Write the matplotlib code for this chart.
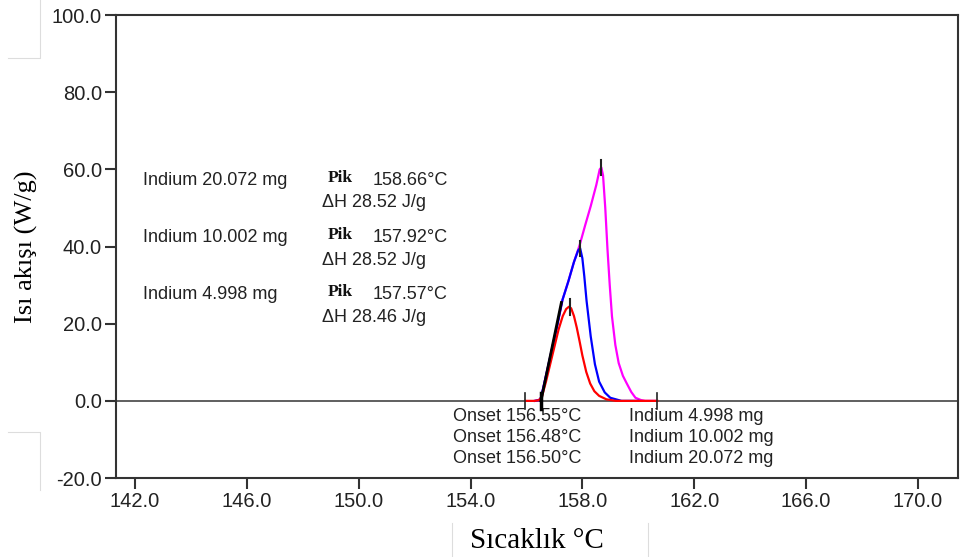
import numpy as np
import matplotlib.pyplot as plt
from matplotlib.lines import Line2D

# DSC curves of indium samples
x_red = [155.96, 156.3, 156.45, 156.55, 156.7, 156.85, 157.0, 157.15, 157.3, 157.42,
         157.52, 157.6, 157.7, 157.8, 157.9, 158.0, 158.14, 158.28, 158.43, 158.6,
         158.86, 159.2, 160.68]
y_red = [0, 0, 0.2, 1.0, 5.0, 9.5, 14.0, 18.5, 22.0, 23.8, 24.4, 24.0, 22.0, 19.0,
         15.5, 11.8, 7.5, 4.5, 2.5, 1.3, 0.4, 0, 0]

x_blue = [156.3, 156.45, 156.52, 156.7, 156.9, 157.1, 157.29, 157.5, 157.7, 157.85,
          157.92, 158.0, 158.07, 158.15, 158.3, 158.45, 158.6, 158.8, 159.0, 159.4,
          160.0]
y_blue = [0, 0.2, 0.8, 6.5, 13.0, 19.5, 26.2, 31.0, 36.0, 39.0, 39.6, 37.0, 32.3,
          26.0, 16.7, 9.5, 5.0, 2.2, 0.8, 0, 0]

x_mag = [156.3, 156.45, 156.52, 156.7, 156.9, 157.1, 157.29, 157.5, 157.7, 157.9,
         158.1, 158.3, 158.5, 158.62, 158.68, 158.74, 158.82, 158.9, 158.98, 159.06,
         159.18, 159.3, 159.45, 159.59, 159.75, 159.9, 160.1, 160.25, 160.6]
y_mag = [0, 0.2, 0.8, 6.5, 13.0, 19.5, 26.2, 31.0, 36.0, 40.3, 45.5, 50.5, 56.0,
         60.0, 60.5, 58.5, 50.0, 39.2, 30.0, 21.9, 14.5, 9.8, 6.5, 4.5, 2.3, 0.8,
         0.2, 0, 0]

peak_x = [157.55, 157.9, 158.66]
peak_y = [24.3, 39.5, 60.5]
onset_x = [156.52, 157.25]
onset_y = [0.0, 25.5]
limit_x = [155.96, 160.68]

masses = ["Indium 20.072 mg", "Indium 10.002 mg", "Indium 4.998 mg"]
peaks = ["158.66°C", "157.92°C", "157.57°C"]
enthalpies = ["ΔH 28.52 J/g", "ΔH 28.52 J/g", "ΔH 28.46 J/g"]
onsets = ["Onset 156.55°C", "Onset 156.48°C", "Onset 156.50°C"]
legend_masses = ["Indium 4.998 mg", "Indium 10.002 mg", "Indium 20.072 mg"]

sans = ["Liberation Sans", "DejaVu Sans"]
serif = ["Liberation Serif", "DejaVu Serif"]

fig = plt.figure(figsize=(9.61, 5.57), dpi=100)
ax = fig.add_axes([0.1207, 0.1418, 0.876, 0.831])

ax.axhline(0, color="#444444", lw=1.2, zorder=1)
ax.plot(x_mag, y_mag, color="#ff00ff", lw=1.6, zorder=2)
ax.plot(x_blue, y_blue, color="#0000ff", lw=1.6, zorder=3)
ax.plot(x_red, y_red, color="#ff0000", lw=1.6, zorder=4)
ax.plot(onset_x, onset_y, color="black", lw=2.0, zorder=5)

for px, py in zip(peak_x, peak_y):
    ax.plot([px, px], [py - 2, py + 2], color="#222222", lw=1.5, zorder=6)
for lx in limit_x:
    ax.plot([lx, lx], [-2, 2], color="#222222", lw=1.2, zorder=6)
ax.plot([onset_x[0], onset_x[0]], [-2, 2], color="black", lw=2.5, zorder=6)

ax.set_xlim(141.32, 171.43)
ax.set_ylim(-20, 100)
ax.set_xticks(np.arange(142, 171, 4))
ax.set_xticklabels([f"{v:.1f}" for v in np.arange(142, 171, 4)])
ax.set_yticks(np.arange(-20, 101, 20))
ax.set_yticklabels([f"{v:.1f}" for v in np.arange(-20, 101, 20)])
ax.tick_params(direction="out", length=8, width=1.5, color="#333333",
               labelsize=14.5, labelcolor="#222222", pad=2)
for lab in ax.get_xticklabels() + ax.get_yticklabels():
    lab.set_family(sans)
for s in ax.spines.values():
    s.set_color("#333333")
    s.set_linewidth(1.5)

ax.set_ylabel("Isı akışı (W/g)", family=serif, fontsize=19, labelpad=10)
ax.set_xlabel("Sıcaklık °C", family=serif, fontsize=21, labelpad=12)

tkw = dict(family=sans, fontsize=13, color="#222222", va="center")
group_y = [57.1, 42.3, 27.5]
for m, p, h, gy in zip(masses, peaks, enthalpies, group_y):
    ax.text(142.28, gy, m, **tkw)
    ax.text(148.89, gy + 0.8, "Pik", family=serif, fontsize=12.5, fontweight="bold",
            va="center", color="#111111")
    ax.text(150.5, gy, p, **tkw)
    ax.text(148.7, gy - 5.8, h, **tkw)

for i, (o, lm) in enumerate(zip(onsets, legend_masses)):
    yy = -4.0 - 5.45 * i
    ax.text(153.36, yy, o, **tkw)
    ax.text(159.68, yy, lm, **tkw)

# faint screenshot frame lines
for xs, ys in [([8, 40, 40], [58, 58, 0]), ([8, 40, 40], [432, 432, 490]),
               ([452, 452], [523, 557]), ([648, 648], [523, 557])]:
    fig.add_artist(Line2D(np.array(xs) / 961, 1 - np.array(ys) / 557,
                          color="#dddddd", lw=0.8))

fig.savefig("out.png", dpi=100)
